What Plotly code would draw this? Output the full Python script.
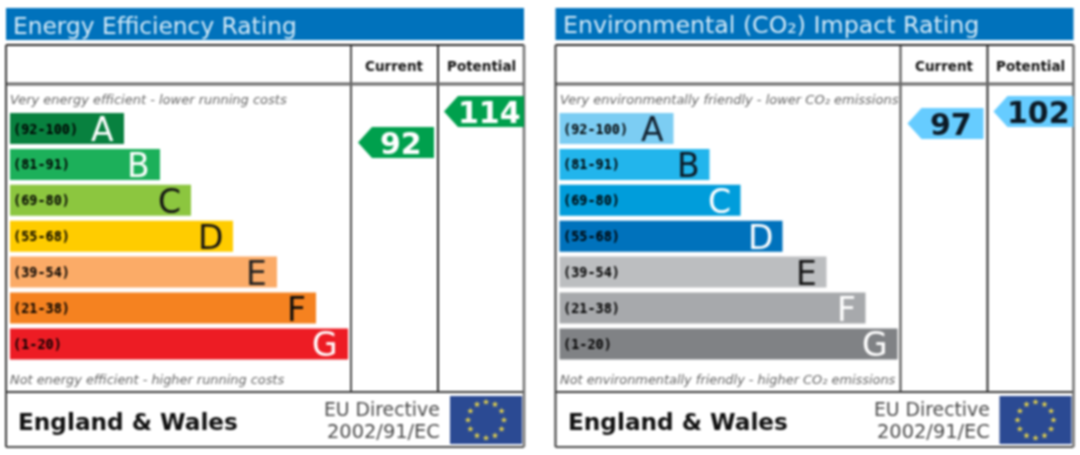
import numpy as np
import plotly.graph_objects as go

# --------------------------------------------------
# 1. DATA
# --------------------------------------------------

bands = ["A", "B", "C", "D", "E", "F", "G"]
band_ranges = ["(92-100)", "(81-91)", "(69-80)", "(55-68)", "(39-54)", "(21-38)", "(1-20)"]
band_lengths = [114, 150, 181, 223, 267, 306, 338]

energy_title = "Energy Efficiency Rating"
energy_top_note = "Very energy efficient - lower running costs"
energy_bottom_note = "Not energy efficient - higher running costs"
energy_colors = ["#08813f", "#1cb05a", "#8cc63f", "#ffcc00", "#fbab67", "#f58220", "#ed1c24"]
energy_letter_colors = ["#ffffff", "#ffffff", "#141414", "#141414", "#222222", "#0c0c0c", "#ffffff"]
energy_current = "92"
energy_potential = "114"

co2_title = "Environmental (CO₂) Impact Rating"
co2_top_note = "Very environmentally friendly - lower CO₂ emissions"
co2_bottom_note = "Not environmentally friendly - higher CO₂ emissions"
co2_colors = ["#7ccdf3", "#22b5ec", "#009ddb", "#0072bc", "#bcbec0", "#a7a9ac", "#808285"]
co2_letter_colors = ["#142230", "#0c1a26", "#ffffff", "#ffffff", "#141414", "#ffffff", "#ffffff"]
co2_current = "97"
co2_potential = "102"

# --------------------------------------------------
# 2. LAYOUT HELPERS (everything in page pixels)
# --------------------------------------------------

fig = go.Figure()
shapes = []
notes = []
FONT = "DejaVu Sans"
MONO = "DejaVu Sans Mono"


def rect(x0, y0, x1, y1, fill=None, line=None, width=0):
    shapes.append(dict(type="rect", x0=x0, y0=y0, x1=x1, y1=y1, xref="x", yref="y",
                       fillcolor=fill, line=dict(color=line, width=width), layer="below"))


def vline(x, y0, y1, color, width):
    shapes.append(dict(type="line", x0=x, x1=x, y0=y0, y1=y1, xref="x", yref="y",
                       line=dict(color=color, width=width), layer="above"))


def hline(x0, x1, y, color, width):
    shapes.append(dict(type="line", x0=x0, x1=x1, y0=y, y1=y, xref="x", yref="y",
                       line=dict(color=color, width=width), layer="above"))


def label(x, y, text, size, color, anchor="left", family=FONT):
    notes.append(dict(x=x, y=y, text=text, xref="x", yref="y", showarrow=False, xanchor=anchor,
                      yanchor="middle", font=dict(family=family, size=size, color=color)))


def arrow(tip, right, top, text, fill, color, size=30):
    bottom = top + 31
    mid = (top + bottom) / 2
    path = f"M {tip} {mid} L {tip + 14} {top} L {right} {top} L {right} {bottom} L {tip + 14} {bottom} Z"
    shapes.append(dict(type="path", path=path, xref="x", yref="y", fillcolor=fill,
                       line=dict(width=0), layer="above"))
    label((tip + 10 + right) / 2, mid + 1, f"<b>{text}</b>", size, color, "center")


def panel(left, title, title_size, top_note, bottom_note, colors, letter_colors,
          current, potential, current_top, arrow_fill, arrow_text):
    right = left + 518
    col1 = left + 345
    col2 = left + 432

    # title strip
    rect(left, 8, right, 40, fill="#0072bc")
    label(left + 5, 25, title, title_size, "#d3e9f7")

    # frame
    rect(left, 45, right, 447, fill="#ffffff")
    vline(col1, 45, 392, "#4a4a4a", 2)
    vline(col2, 45, 392, "#2a2a2a", 2)
    hline(left, right, 84, "#6a6a6a", 3)
    hline(left, right, 392, "#3a3a3a", 2)
    hline(left, right, 45, "#2a2a2a", 2)
    hline(left, right, 447, "#4a4a4a", 2)
    vline(left, 45, 447, "#3a3a3a", 2)
    vline(right, 45, 447, "#707070", 2.5)

    label((col1 + col2) / 2, 66, "<b>Current</b>", 13.5, "#111111", "center")
    label((col2 + right) / 2, 66, "<b>Potential</b>", 13.5, "#111111", "center")
    label(left + 2, 99, f"<i>{top_note}</i>", 13, "#666666")
    label(left + 2, 379, f"<i>{bottom_note}</i>", 12.9, "#666666")

    # rating bars
    base = left + 4
    centers = [128.5 + 35.9 * i for i in range(len(bands))]
    fig.add_trace(go.Bar(
        x=band_lengths, y=centers, base=base, orientation="h", width=31,
        marker=dict(color=colors, line=dict(width=0)), showlegend=False,
        hoverinfo="skip",
    ))
    for band, rng, length, y, col in zip(bands, band_ranges, band_lengths, centers, letter_colors):
        label(base + 1, y, f"<b>{rng}</b>", 13.5, "#000000", family=MONO)
        label(base + length - 8, y + 1, band, 33, col, "right")

    # current and potential pointers
    arrow(col1 + 7, col2 - 4, current_top, current, arrow_fill, arrow_text)
    arrow(col2 + 6, right, 96, potential, arrow_fill, arrow_text)

    # footer
    label(left + 10, 421, "<b>England &amp; Wales</b>", 23.2, "#111111")
    label(left + 436, 409, "EU Directive", 18.8, "#4a4a4a", "right")
    label(left + 436, 431, "2002/91/EC", 19.4, "#4a4a4a", "right")

    # EU flag
    rect(left + 444, 396, left + 516, 444, fill="#2b4a93")
    angles = np.arange(12) * np.pi / 6
    fig.add_trace(go.Scatter(
        x=left + 480 + 18 * np.cos(angles), y=420 + 18 * np.sin(angles), mode="markers",
        marker=dict(symbol="star", size=5, color="#e8d44a", line=dict(width=0)),
        showlegend=False, hoverinfo="skip",
    ))


# --------------------------------------------------
# 3. THE TWO PANELS
# --------------------------------------------------

panel(6, energy_title, 23.3, energy_top_note, energy_bottom_note, energy_colors, energy_letter_colors,
      energy_current, energy_potential, 127, "#00a04d", "#ffffff")
panel(555.5, co2_title, 23.7, co2_top_note, co2_bottom_note, co2_colors, co2_letter_colors,
      co2_current, co2_potential, 108, "#66ccff", "#0c1a26")

# --------------------------------------------------
# 4. FIGURE
# --------------------------------------------------

fig.update_layout(
    width=1080,
    height=455,
    margin=dict(l=0, r=0, t=0, b=0),
    paper_bgcolor="#ffffff",
    plot_bgcolor="#ffffff",
    shapes=shapes,
    annotations=notes,
    barmode="overlay",
    xaxis=dict(range=[0, 1080], visible=False, fixedrange=True),
    yaxis=dict(range=[455, 0], visible=False, fixedrange=True),
)

fig.write_html(
    "out.html",
    config=dict(displayModeBar=False),
    post_script="document.body.style.margin='0';document.querySelector('.plotly-graph-div').style.filter='blur(0.8px)';",
)
